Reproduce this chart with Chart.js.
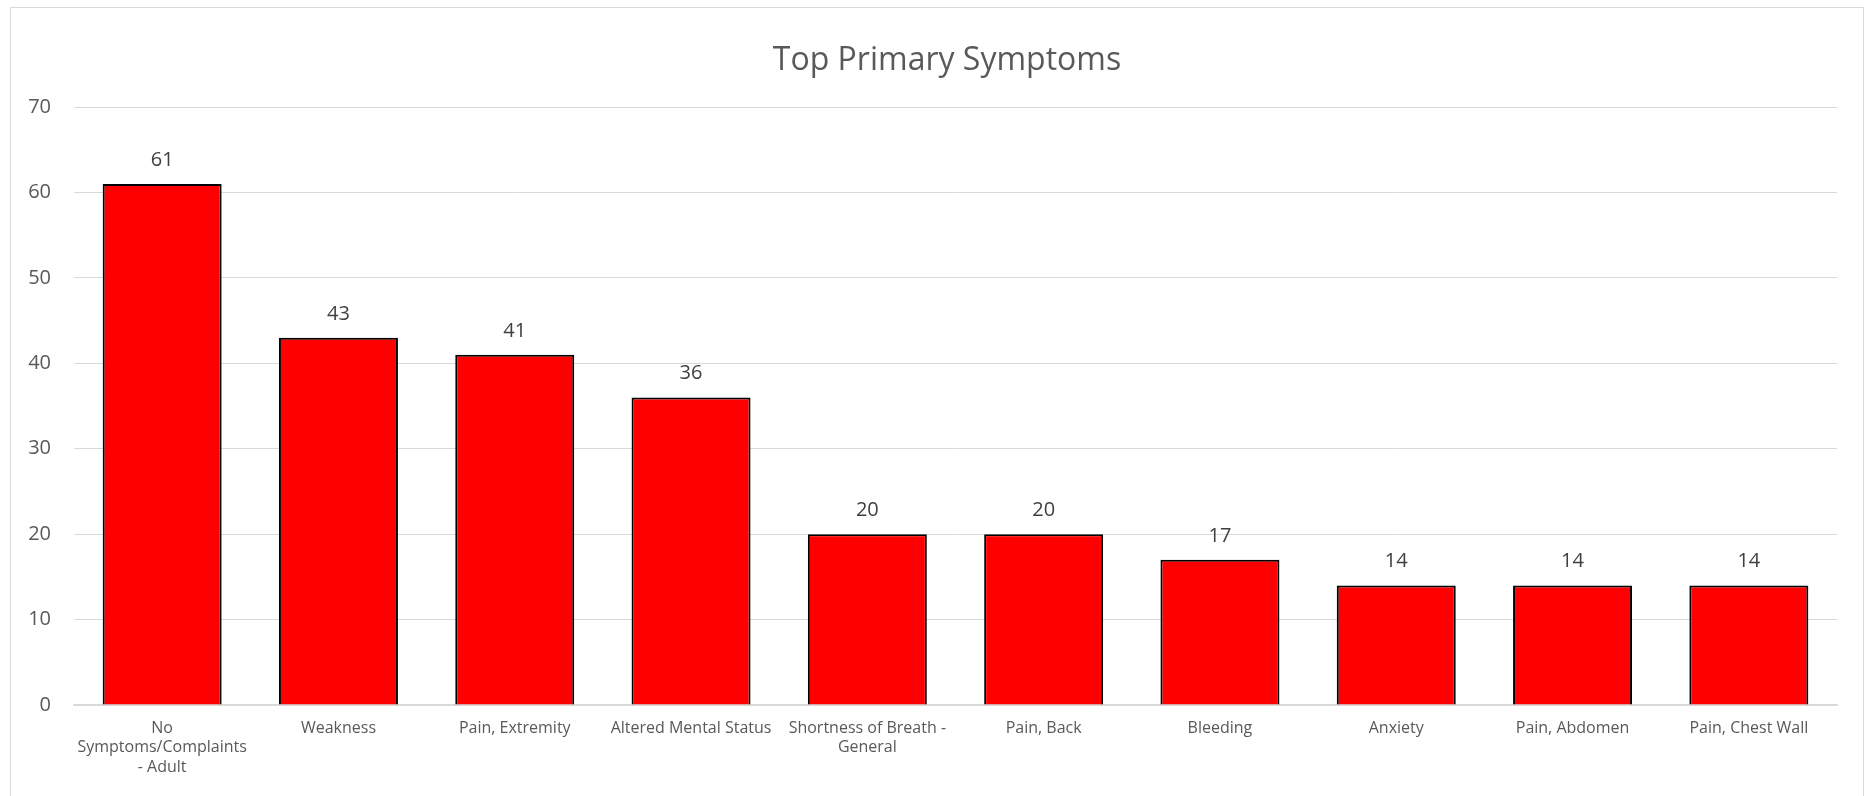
<!DOCTYPE html>
<html>
<head>
<meta charset="utf-8">
<script src="https://cdn.jsdelivr.net/npm/chart.js@4/dist/chart.umd.min.js"></script>
<style>
html,body{margin:0;padding:0;background:#fff;overflow:hidden;}
#wrap{position:absolute;left:0;top:0;width:1871px;height:796px;}
</style>
</head>
<body>
<div id="wrap"><canvas id="c" width="1871" height="796"></canvas></div>
<script>
const chartTitle = "Top Primary Symptoms";
const categories = [
  ["No", "Symptoms/Complaints", "- Adult"],
  "Weakness",
  "Pain, Extremity",
  "Altered Mental Status",
  ["Shortness of Breath -", "General"],
  "Pain, Back",
  "Bleeding",
  "Anxiety",
  "Pain, Abdomen",
  "Pain, Chest Wall"
];
const values = [61, 43, 41, 36, 20, 20, 17, 14, 14, 14];
const yTicks = [0, 10, 20, 30, 40, 50, 60, 70];

const FONT = "'Open Sans', 'DejaVu Sans', sans-serif";

const frameAndLabels = {
  id: 'frameAndLabels',
  beforeDraw(chart) {
    const ctx = chart.ctx;
    ctx.save();
    ctx.fillStyle = '#ffffff';
    ctx.fillRect(0, 0, chart.width, chart.height);
    ctx.strokeStyle = '#d9d9d9';
    ctx.lineWidth = 1;
    ctx.strokeRect(10.5, 7.5, 1853, 820);
    ctx.fillStyle = '#595959';
    ctx.font = "32px " + FONT;
    ctx.textAlign = 'center';
    ctx.textBaseline = 'alphabetic';
    ctx.fillText(chartTitle, 947, 70);
    ctx.restore();
  },
  afterDatasetsDraw(chart) {
    const ctx = chart.ctx;
    const meta = chart.getDatasetMeta(0);
    ctx.save();
    ctx.fillStyle = '#404040';
    ctx.font = "20px " + FONT;
    ctx.textAlign = 'center';
    ctx.textBaseline = 'alphabetic';
    meta.data.forEach((el, i) => {
      ctx.fillText(String(values[i]), el.x, el.y - 18);
    });
    ctx.restore();
  }
};

new Chart(document.getElementById('c'), {
  type: 'bar',
  data: {
    labels: categories,
    datasets: [{
      data: values,
      backgroundColor: '#ff0000',
      borderColor: '#000000',
      borderWidth: 2,
      borderSkipped: 'bottom',
      categoryPercentage: 1,
      barPercentage: 0.675
    }]
  },
  options: {
    responsive: false,
    animation: false,
    devicePixelRatio: 1,
    layout: { padding: { top: 107, left: 0, right: 34, bottom: 0 } },
    plugins: { legend: { display: false }, title: { display: false }, tooltip: { enabled: false } },
    scales: {
      x: {
        grid: { display: false, drawTicks: false },
        border: { display: true, color: '#d9d9d9', width: 1.5 },
        ticks: { color: '#595959', font: { family: FONT, size: 16 }, padding: 14, maxRotation: 0, autoSkip: false, lineHeight: 1.4 },
        afterFit(scale) { scale.height = 91; }
      },
      y: {
        min: 0, max: 70,
        afterBuildTicks(scale) { scale.ticks = yTicks.map(v => ({ value: v })); },
        grid: { color: '#d9d9d9', lineWidth: 1, drawTicks: false },
        border: { display: false },
        ticks: { color: '#595959', font: { family: FONT, size: 20 }, padding: 23 },
        afterFit(scale) { scale.width = 74; }
      }
    }
  },
  plugins: [frameAndLabels]
});
</script>
</body>
</html>
